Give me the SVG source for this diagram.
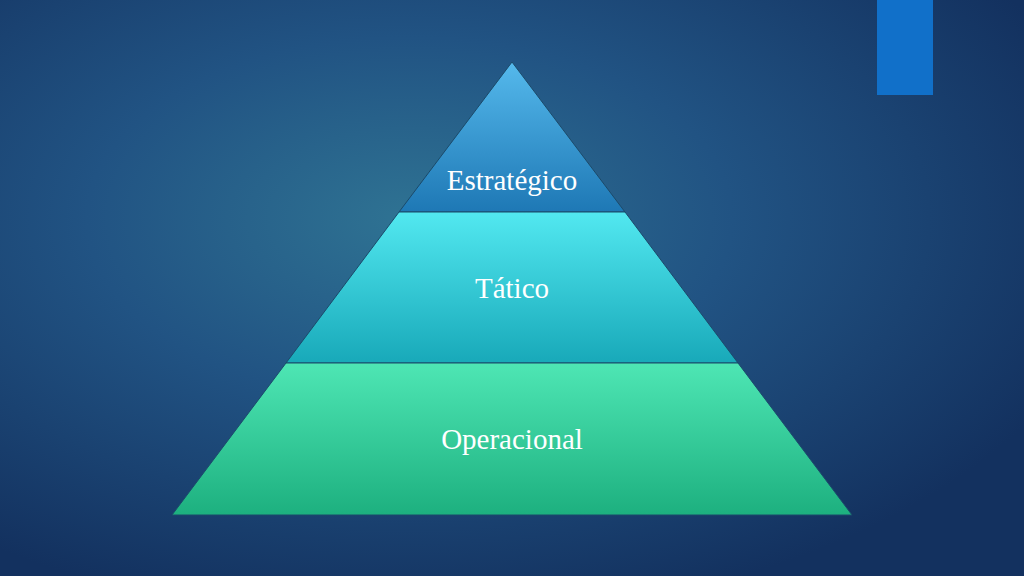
<svg xmlns="http://www.w3.org/2000/svg" width="1024" height="576" viewBox="0 0 1024 576">
<defs>
<radialGradient id="bg" cx="0.4" cy="0.38" r="0.7">
<stop offset="0" stop-color="#2f7393"/>
<stop offset="0.45" stop-color="#215383"/>
<stop offset="1" stop-color="#13315f"/>
</radialGradient>
<linearGradient id="g1" x1="0" y1="0" x2="0" y2="1"><stop offset="0" stop-color="#55b9ec"/><stop offset="1" stop-color="#1e78b5"/></linearGradient>
<linearGradient id="g2" x1="0" y1="0" x2="0" y2="1"><stop offset="0" stop-color="#52e8f0"/><stop offset="1" stop-color="#18a9b9"/></linearGradient>
<linearGradient id="g3" x1="0" y1="0" x2="0" y2="1"><stop offset="0" stop-color="#4ee6b4"/><stop offset="1" stop-color="#1db07f"/></linearGradient>
<style>
.lbl{font-family:"Liberation Serif",serif;font-size:29px;fill:#fff;text-anchor:middle}
.band{stroke:#1b4a6a;stroke-width:1}
</style>
</defs>
<rect width="1024" height="576" fill="url(#bg)"/>
<rect x="877" y="0" width="56" height="95" fill="#1170c9"/>
<g id="estrategico"><polygon class="band" points="512,62 625,212 399,212" fill="url(#g1)"/><text class="lbl" x="512" y="190">Estratégico</text></g>
<g id="tatico"><polygon class="band" points="399,212 625,212 738,363 286,363" fill="url(#g2)"/><text class="lbl" x="512" y="298">Tático</text></g>
<g id="operacional"><polygon class="band" points="286,363 738,363 852,515 172,515" fill="url(#g3)"/><text class="lbl" x="512" y="449">Operacional</text></g>
<g id="connectors"/>
</svg>
